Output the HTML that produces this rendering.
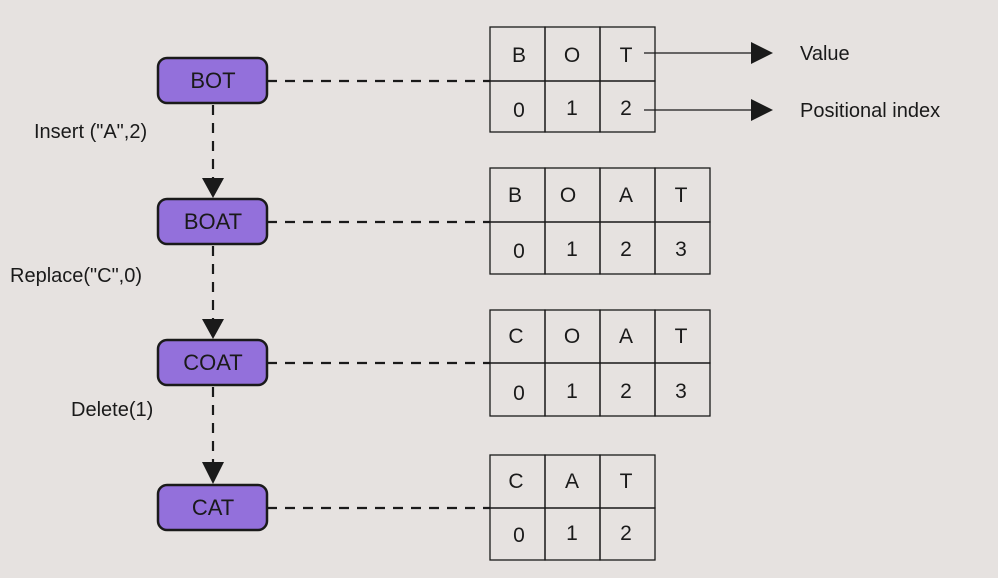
<!DOCTYPE html>
<html><head><meta charset="utf-8"><style>
html,body{margin:0;padding:0;background:#e6e2e0;}
svg{display:block}
text{font-family:"Liberation Sans",sans-serif;fill:#1a1a1a}
</style></head><body>
<svg width="998" height="578" viewBox="0 0 998 578" xmlns="http://www.w3.org/2000/svg">
<rect width="998" height="578" fill="#e6e2e0"/>
<g stroke="#1a1a1a" stroke-width="2.2" stroke-dasharray="10,8" fill="none">
<line x1="267" y1="81" x2="490" y2="81"/>
<line x1="267" y1="222" x2="490" y2="222"/>
<line x1="267" y1="363" x2="490" y2="363"/>
<line x1="267" y1="508" x2="490" y2="508"/>
<line x1="213" y1="105" x2="213" y2="180"/>
<line x1="213" y1="246" x2="213" y2="320"/>
<line x1="213" y1="387" x2="213" y2="463"/>
</g>
<g fill="#1a1a1a">
<polygon points="202,178 224,178 213,198"/>
<polygon points="202,319 224,319 213,339"/>
<polygon points="202,462 224,462 213,484"/>
<polygon points="751,42 773,53 751,64"/>
<polygon points="751,99 773,110 751,121"/>
</g>
<g stroke="#1a1a1a" stroke-width="1.3">
<line x1="644" y1="53" x2="752" y2="53"/>
<line x1="644" y1="110" x2="752" y2="110"/>
</g>
<g fill="#9370db" stroke="#1a1a1a" stroke-width="2.5">
<rect x="158" y="58" width="109" height="45" rx="9"/>
<rect x="158" y="199" width="109" height="45" rx="9"/>
<rect x="158" y="340" width="109" height="45" rx="9"/>
<rect x="158" y="485" width="109" height="45" rx="9"/>
</g>
<g font-size="22" text-anchor="middle">
<text x="213" y="88">BOT</text>
<text x="213" y="229">BOAT</text>
<text x="213" y="370">COAT</text>
<text x="213" y="515">CAT</text>
</g>
<g font-size="20">
<text x="34" y="138">Insert ("A",2)</text>
<text x="10" y="282">Replace("C",0)</text>
<text x="71" y="416">Delete(1)</text>
<text x="800" y="60">Value</text>
<text x="800" y="117">Positional index</text>
</g>
<g fill="none" stroke="#1a1a1a" stroke-width="1.3">
<rect x="490" y="27" width="55" height="54"/><rect x="545" y="27" width="55" height="54"/><rect x="600" y="27" width="55" height="54"/>
<rect x="490" y="81" width="55" height="51"/><rect x="545" y="81" width="55" height="51"/><rect x="600" y="81" width="55" height="51"/>
<rect x="490" y="168" width="55" height="54"/><rect x="545" y="168" width="55" height="54"/><rect x="600" y="168" width="55" height="54"/><rect x="655" y="168" width="55" height="54"/>
<rect x="490" y="222" width="55" height="52"/><rect x="545" y="222" width="55" height="52"/><rect x="600" y="222" width="55" height="52"/><rect x="655" y="222" width="55" height="52"/>
<rect x="490" y="310" width="55" height="53"/><rect x="545" y="310" width="55" height="53"/><rect x="600" y="310" width="55" height="53"/><rect x="655" y="310" width="55" height="53"/>
<rect x="490" y="363" width="55" height="53"/><rect x="545" y="363" width="55" height="53"/><rect x="600" y="363" width="55" height="53"/><rect x="655" y="363" width="55" height="53"/>
<rect x="490" y="455" width="55" height="53"/><rect x="545" y="455" width="55" height="53"/><rect x="600" y="455" width="55" height="53"/>
<rect x="490" y="508" width="55" height="52"/><rect x="545" y="508" width="55" height="52"/><rect x="600" y="508" width="55" height="52"/>
</g>
<g font-size="21" text-anchor="middle">
<text x="519" y="62">B</text><text x="572" y="62">O</text><text x="626" y="62">T</text>
<text x="519" y="117">0</text><text x="572" y="115">1</text><text x="626" y="115">2</text>
<text x="515" y="202">B</text><text x="568" y="202">O</text><text x="626" y="202">A</text><text x="681" y="202">T</text>
<text x="519" y="258">0</text><text x="572" y="256">1</text><text x="626" y="256">2</text><text x="681" y="256">3</text>
<text x="516" y="343">C</text><text x="572" y="343">O</text><text x="626" y="343">A</text><text x="681" y="343">T</text>
<text x="519" y="400">0</text><text x="572" y="398">1</text><text x="626" y="398">2</text><text x="681" y="398">3</text>
<text x="516" y="488">C</text><text x="572" y="488">A</text><text x="626" y="488">T</text>
<text x="519" y="542">0</text><text x="572" y="540">1</text><text x="626" y="540">2</text>
</g>
</svg>
</body></html>
